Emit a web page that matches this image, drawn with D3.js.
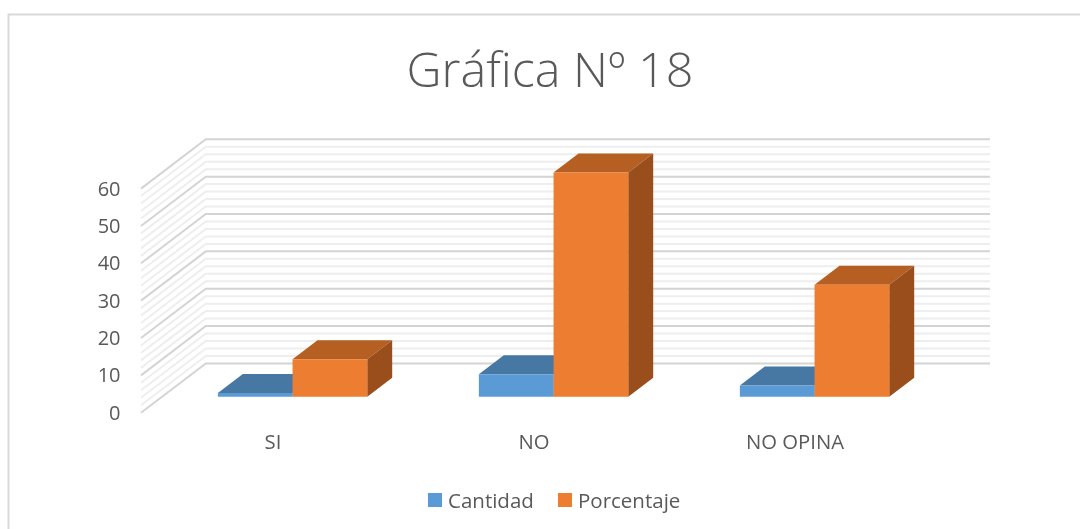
<!DOCTYPE html>
<html>
<head>
<meta charset="utf-8">
<script src="https://cdn.jsdelivr.net/npm/d3@7"></script>
<style>
  html, body { margin: 0; padding: 0; background: #fff; }
  svg { display: block; filter: blur(0.5px); }
  text { font-family: "Open Sans", sans-serif; fill: #595959; }
</style>
</head>
<body>
<svg id="canvas"></svg>
<script>
// Data
const categories = ["SI", "NO", "NO OPINA"];
const seriesNames = ["Cantidad", "Porcentaje"];
const cantidad = [1, 6, 3];
const porcentaje = [10, 60, 30];
const tickLabels = [0, 10, 20, 30, 40, 50, 60];
const minorTicks = [2, 4, 6, 8, 12, 14, 16, 18, 22, 24, 26, 28, 32, 34, 36, 38, 42, 44, 46, 48, 52, 54, 56, 58];

const width = 1080;
const height = 529;
const svg = d3.select("#canvas").attr("width", width).attr("height", height);

// Frame of the picture, only top and left are visible
svg.append("path")
   .attr("d", "M8.5,529V14.5H1080")
   .attr("fill", "none")
   .attr("stroke", "#d9d9d9")
   .attr("stroke-width", 2);

// Scales: x along the front plane, y for the value, z for the depth (0 front, 1 back)
const x0 = d3.scaleBand().domain(categories).range([141, 924]);
const x1 = d3.scaleBand().domain(seriesNames).range([0, x0.bandwidth()]).paddingOuter(0.747);
const y = d3.scaleLinear().domain([0, 60]).range([412.7, 188.6]);
const depthX = d3.scaleLinear().domain([0, 1]).range([0, 64.8]);
const depthY = d3.scaleLinear().domain([0, 1]).range([0, -49.3]);

// point in the pseudo 3d space
const pt = (px, v, z) => [px + depthX(z), y(v) + depthY(z)];

// Gridlines on the back wall and on the left wall
const grid = svg.append("g");
const drawGrid = (values, color) => {
   const g = grid.append("g")
      .attr("fill", "none")
      .attr("stroke", color)
      .attr("stroke-width", 2);
   g.selectAll("path")
      .data(values)
      .enter()
      .append("path")
      .attr("d", (v) => d3.line()([pt(141, v, 0), pt(141, v, 1), pt(990 - 64.8, v, 1)]));
};
drawGrid(minorTicks, "#eeeeee");
drawGrid(tickLabels, "#d4d4d4");

// Bars
const barZ = [0.325, 0.71];
const colors = {
   Cantidad: { front: "#5b9bd5", top: "#4777a3", side: "#3f6f9c" },
   Porcentaje: { front: "#ed7d31", top: "#b55f22", side: "#994e1b" }
};
const line = d3.line().curve(d3.curveLinearClosed);

const bars = [];
seriesNames.forEach((name) => {
   const values = name === "Cantidad" ? cantidad : porcentaje;
   categories.forEach((c, i) => bars.push({ name: name, cat: c, value: values[i] }));
});

const bar = svg.append("g")
   .selectAll("g")
   .data(bars)
   .enter()
   .append("g");

// top
bar.append("path")
   .attr("fill", (d) => colors[d.name].top)
   .attr("d", (d) => {
      const l = x0(d.cat) + x1(d.name), r = l + x1.bandwidth();
      return line([pt(l, d.value, barZ[0]), pt(l, d.value, barZ[1]), pt(r, d.value, barZ[1]), pt(r, d.value, barZ[0])]);
   });
// side
bar.append("path")
   .attr("fill", (d) => colors[d.name].side)
   .attr("d", (d) => {
      const r = x0(d.cat) + x1(d.name) + x1.bandwidth();
      return line([pt(r, 0, barZ[0]), pt(r, 0, barZ[1]), pt(r, d.value, barZ[1]), pt(r, d.value, barZ[0])]);
   });
// front
bar.append("path")
   .attr("fill", (d) => colors[d.name].front)
   .attr("d", (d) => {
      const l = x0(d.cat) + x1(d.name), r = l + x1.bandwidth();
      return line([pt(l, 0, barZ[0]), pt(l, d.value, barZ[0]), pt(r, d.value, barZ[0]), pt(r, 0, barZ[0])]);
   });

// Axes
const yAxis = svg.append("g")
   .attr("transform", "translate(120.5,0)")
   .call(d3.axisLeft(y).tickValues(tickLabels).tickSize(0).tickPadding(0));
yAxis.select(".domain").remove();
yAxis.selectAll("text")
   .style("font-family", '"Open Sans", sans-serif')
   .style("font-size", "20px")
   .attr("fill", "#595959");

const xAxis = svg.append("g")
   .attr("transform", "translate(1.5,435)")
   .call(d3.axisBottom(x0).tickSize(0).tickPadding(0));
xAxis.select(".domain").remove();
xAxis.selectAll("text")
   .style("font-family", '"Open Sans", sans-serif')
   .style("font-size", "20.3px")
   .attr("fill", "#595959");

// Title
svg.append("text")
   .attr("x", 550)
   .attr("y", 87)
   .attr("text-anchor", "middle")
   .style("font-size", "48.5px")
   .style("font-weight", 300)
   .text("Gráfica Nº 18");

// Legend
const legendX = [428, 558];
const legend = svg.append("g")
   .selectAll("g")
   .data(seriesNames)
   .enter()
   .append("g")
   .attr("transform", (d, i) => `translate(${legendX[i]},493)`);
legend.append("rect")
   .attr("width", 14)
   .attr("height", 14)
   .attr("fill", (d) => colors[d].front);
legend.append("text")
   .attr("x", 20)
   .attr("y", 14.5)
   .style("font-size", "20.5px")
   .text((d) => d);
</script>
</body>
</html>
